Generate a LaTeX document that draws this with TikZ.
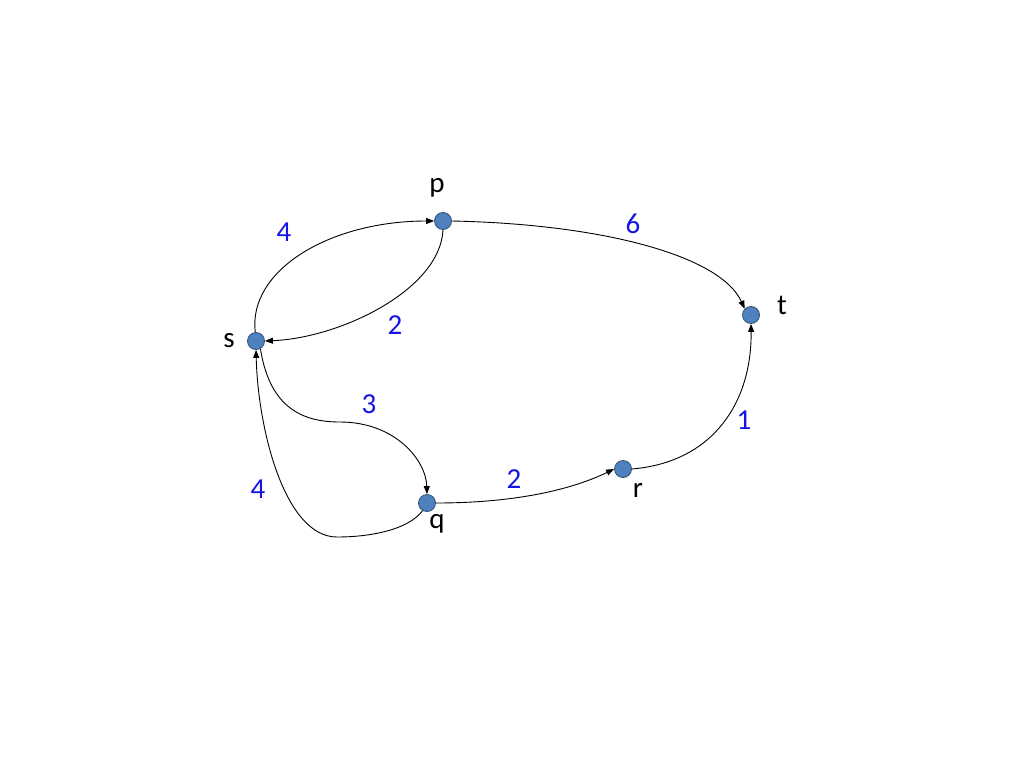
\documentclass[tikz,border=0pt]{standalone}
\usepackage{fontspec}
\setmainfont{Carlito}
\usetikzlibrary{arrows.meta}
\definecolor{nodefill}{HTML}{4F81BD}
\definecolor{nodeline}{HTML}{2F4F7A}
\definecolor{wblue}{RGB}{20,20,230}
\tikzset{
  vert/.style={circle,fill=nodefill,draw=nodeline,line width=0.8pt,minimum size=17pt,inner sep=0pt},
  vlabel/.style={font=\fontsize{29}{34}\selectfont,text=black,inner sep=0pt},
  wlabel/.style={font=\fontsize{29}{34}\selectfont,text=wblue,inner sep=0pt},
  edge/.style={draw=black,line width=0.9pt,-{Triangle[length=8pt,width=6pt]}}
}
\begin{document}
\begin{tikzpicture}[x=1pt,y=-1pt]
\useasboundingbox (0,0) rectangle (1024,768);
% vertices
\node[vert] (p) at (443,221) {};
\node[vert] (s) at (256,341) {};
\node[vert] (t) at (751,315) {};
\node[vert] (q) at (427,503) {};
\node[vert] (r) at (623,469) {};
% vertex labels
\node[vlabel] (lp) at (437,188) {p};
\node[vlabel] (ls) at (229,341) {s};
\node[vlabel] (lt) at (782,305) {t};
\node[vlabel] (lq) at (437,524) {q};
\node[vlabel] (lr) at (638,490) {r};
% edges
\coordinate (m3) at (340,422);
\coordinate (m4) at (337,537);
\draw[edge] (s.95) .. controls (248,270) and (330,221) .. (p.west);
\draw[edge] (p.south) .. controls (440,290) and (340,338) .. (s.east);
\draw[edge] (p.east) .. controls (600,224) and (720,255) .. (t.north west);
\draw[edge] (s.-60) .. controls (270,410) and (305,422) .. (m3) .. controls (395,422) and (426,460) .. (q.north);
\draw[edge] (q.-120) .. controls (408,530) and (370,537) .. (m4) .. controls (285,537) and (258,430) .. (s.south);
\draw[edge] (q.east) .. controls (520,503) and (575,488) .. (r.west);
\draw[edge] (r.east) .. controls (715,462) and (752,400) .. (t.south);
% weights
\node[wlabel] (w1) at (284,232) {4};
\node[wlabel] (w2) at (395,325) {2};
\node[wlabel] (w3) at (633,224) {6};
\node[wlabel] (w4) at (369,404) {3};
\node[wlabel] (w5) at (744,420) {1};
\node[wlabel] (w6) at (514,479) {2};
\node[wlabel] (w7) at (258,489) {4};
\end{tikzpicture}
\end{document}
